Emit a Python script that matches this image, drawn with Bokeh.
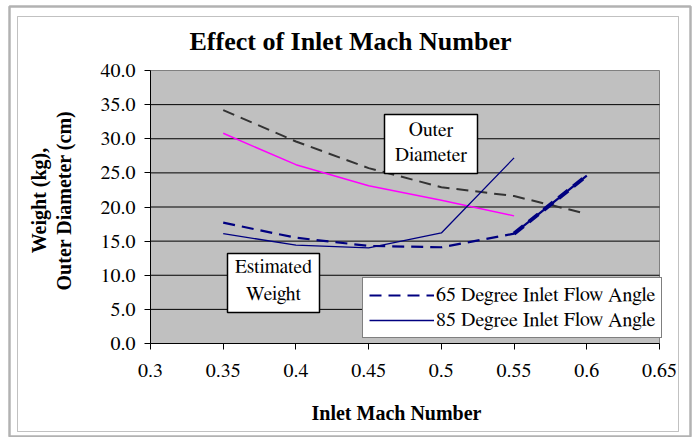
from math import pi
from bokeh.plotting import figure
from bokeh.models import (Label, BoxAnnotation, Legend, LegendItem, FixedTicker, Range1d, LinearAxis)
from bokeh.embed import file_html
from bokeh.resources import INLINE

# ---- data ----
mach = [0.35, 0.40, 0.45, 0.50, 0.55, 0.60]
diameter_65 = [34.2, 29.6, 25.7, 22.9, 21.6, 19.0]
diameter_85 = [30.8, 26.2, 23.1, 21.0, 18.7]
weight_65 = [17.7, 15.5, 14.3, 14.1, 16.1, 24.6]
weight_85 = [16.1, 14.4, 14.0, 16.2, 27.2]
x_ticks = [0.3, 0.35, 0.4, 0.45, 0.5, 0.55, 0.6, 0.65]
x_tick_labels = ["0.3", "0.35", "0.4", "0.45", "0.5", "0.55", "0.6", "0.65"]
y_ticks = [0, 5, 10, 15, 20, 25, 30, 35, 40]
y_tick_labels = ["0.0", "5.0", "10.0", "15.0", "20.0", "25.0", "30.0", "35.0", "40.0"]
series_labels = ["65 Degree Inlet Flow Angle", "85 Degree Inlet Flow Angle"]
title_text = "Effect of Inlet Mach Number"
x_title = "Inlet Mach Number"
y_title_lines = ["Weight (kg),", "Outer Diameter (cm)"]
callout_diameter = ["Outer", "Diameter"]
callout_weight = ["Estimated", "Weight"]

X0, X1 = x_ticks[0], x_ticks[-1]
Y0, Y1 = y_ticks[0], y_ticks[-1]

SERIF = "FreeSerif, Liberation Serif, serif"
SERIF_BOLD = "Liberation Serif"

# ---- canvas geometry: frame covers whole canvas; plot area placed in pixels ----
W, H = 694, 437
PL, PR, PT, PB = 150, 659, 70, 343
kx = (X1 - X0) / (PR - PL)
ky = (Y1 - Y0) / (PB - PT)
def dx(px):
    return X0 + (px - PL) * kx
def dy(py):
    return Y0 + (PB - py) * ky

p = figure(width=W, height=H, x_range=Range1d(dx(0), dx(W)), y_range=Range1d(dy(H), dy(0)),
           output_backend="svg", toolbar_location=None, title=None,
           x_axis_location=None, y_axis_location=None,
           min_border=0, min_border_left=0, min_border_right=0, min_border_top=0, min_border_bottom=0)
p.background_fill_color = "white"
p.border_fill_color = "white"
p.outline_line_color = None
p.xgrid.visible = False
p.ygrid.visible = False

# plot area
p.quad(left=[X0], right=[X1], bottom=[Y0], top=[Y1], fill_color="#C0C0C0", line_color="#808080", line_width=1)
# horizontal grid lines at inner y ticks
inner_y = y_ticks[1:-1]
p.segment(x0=[X0] * len(inner_y), x1=[X1] * len(inner_y), y0=inner_y, y1=inner_y,
          line_color="black", line_width=1)

xaxis = LinearAxis(fixed_location=Y0, bounds=(X0, X1))
yaxis = LinearAxis(fixed_location=X0, bounds=(Y0, Y1))
for ax, ticks, labels in ((xaxis, x_ticks, x_tick_labels), (yaxis, y_ticks, y_tick_labels)):
    ax.ticker = FixedTicker(ticks=ticks, minor_ticks=[])
    ax.major_label_overrides = {float(t): l for t, l in zip(ticks, labels)}
    ax.major_tick_in = 0
    ax.major_tick_out = 6
    ax.minor_tick_line_color = None
    ax.axis_line_color = "black"
    ax.major_tick_line_color = "black"
    ax.major_label_text_font = SERIF
    ax.major_label_text_font_size = "20px"
    ax.major_label_text_color = "black"
xaxis.major_label_standoff = 14
yaxis.major_label_standoff = 9
p.add_layout(xaxis, "below")
p.add_layout(yaxis, "left")

# ---- series ----
p.line(mach, diameter_65, line_color="#333333", line_width=2, line_dash="12 7")
p.line(mach[:5], diameter_85, line_color="#FF00FF", line_width=1.5)
r65 = p.line(mach, weight_65, line_color="#000080", line_width=2.2, line_dash="12 7")
p.line(mach[4:], weight_65[4:], line_color="#000080", line_width=4, line_dash="12 7")
r85 = p.line(mach[:5], weight_85, line_color="#000080", line_width=1.3)

# ---- callout boxes ----
def box_with_text(l, r, t, b, lines_py, lines):
    p.add_layout(BoxAnnotation(left=dx(l), right=dx(r), top=dy(t), bottom=dy(b),
                               fill_color="white", fill_alpha=1,
                               line_color="black", line_width=1.5, line_alpha=1))
    for yy, txt in zip(lines_py, lines):
        p.add_layout(Label(x=dx((l + r) / 2), y=dy(yy), text=txt, text_font=SERIF, text_font_size="19.5px",
                           text_align="center", text_baseline="middle", text_color="black"))

box_with_text(384, 477, 114, 173, [129, 154], callout_diameter)
box_with_text(227, 319, 253, 312, [266, 293], callout_weight)

# ---- legend ----
legend = Legend(items=[LegendItem(label=series_labels[0], renderers=[r65]),
                       LegendItem(label=series_labels[1], renderers=[r85])],
                location=(362, H - 338), orientation="vertical",
                glyph_width=65, glyph_height=22, label_height=22, label_standoff=2,
                spacing=3, padding=6, margin=0,
                border_line_color="black", border_line_width=1,
                background_fill_color="white", background_fill_alpha=1,
                label_text_font=SERIF, label_text_font_size="20px", label_text_color="black")
p.add_layout(legend)

# ---- titles ----
p.add_layout(Label(x=dx(350), y=dy(41), text=title_text,
                   text_font=SERIF_BOLD, text_font_size="26px", text_font_style="bold",
                   text_align="center", text_baseline="middle", text_color="black"))
p.add_layout(Label(x=dx(396), y=dy(412), text=x_title,
                   text_font=SERIF_BOLD, text_font_size="20px", text_font_style="bold",
                   text_align="center", text_baseline="middle", text_color="black"))
for xx, txt in zip([38, 63], y_title_lines):
    p.add_layout(Label(x=dx(xx), y=dy(200), text=txt, angle=pi / 2,
                       text_font=SERIF_BOLD, text_font_size="20px", text_font_style="bold",
                       text_align="center", text_baseline="middle", text_color="black"))

# ---- chart borders ----
p.add_layout(BoxAnnotation(left=dx(9), right=dx(690), top=dy(6), bottom=dy(436),
                           fill_alpha=0, line_color="black", line_width=2.5))
p.add_layout(BoxAnnotation(left=dx(17), right=dx(678), top=dy(16), bottom=dy(431),
                           fill_alpha=0, line_color="#333333", line_width=1))

open("out.html", "w").write(file_html(p, INLINE))
